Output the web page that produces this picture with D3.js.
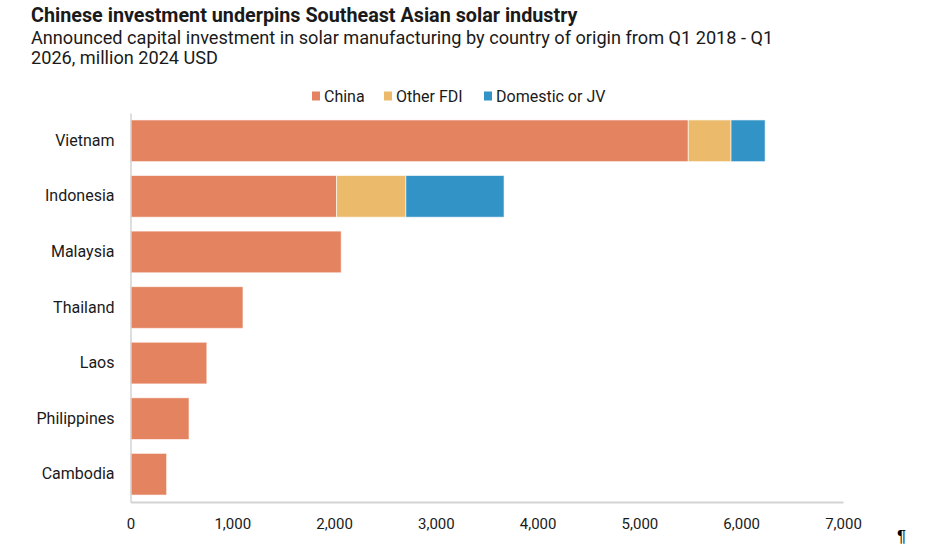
<!DOCTYPE html>
<html>
<head>
<meta charset="utf-8">
<script src="https://cdn.jsdelivr.net/npm/d3@7"></script>
<style>
  body { margin: 0; background: #fff; font-family: Roboto, "Noto Sans", sans-serif; }
  .axis text { font-family: Roboto, sans-serif; fill: #1a1a1a; }
  .x-axis text { font-size: 15px; }
  .y-axis text { font-size: 16px; }
</style>
</head>
<body>
<div id="chart"></div>
<script>
// Data (million 2024 USD)
const countries = ['Vietnam', 'Indonesia', 'Malaysia', 'Thailand', 'Laos', 'Philippines', 'Cambodia'];
const china = [5480, 2025, 2070, 1105, 750, 575, 355];
const otherFdi = [420, 680, 0, 0, 0, 0, 0];
const domestic = [335, 965, 0, 0, 0, 0, 0];
const seriesNames = ['China', 'Other FDI', 'Domestic or JV'];
const seriesColors = ['#e4835f', '#ebbb6b', '#3193c6'];
const xTicks = [0, 1000, 2000, 3000, 4000, 5000, 6000, 7000];

const W = 936, H = 550;
const x0 = 130.5, x1 = 843, yTop = 113, yBottom = 502;

const svg = d3.select('#chart')
    .append('svg')
    .attr('width', W)
    .attr('height', H);

// Title + subtitle
svg.append('text')
    .attr('x', 31).attr('y', 22)
    .attr('font-size', '19.75px').attr('font-weight', 700).attr('fill', '#1a1a1a')
    .text('Chinese investment underpins Southeast Asian solar industry');

const sub = svg.append('text')
    .attr('x', 31).attr('y', 44)
    .attr('font-size', '18.15px').attr('fill', '#1a1a1a');
sub.append('tspan').attr('x', 31).attr('dy', 0)
    .text('Announced capital investment in solar manufacturing by country of origin from Q1 2018 - Q1');
sub.append('tspan').attr('x', 31).attr('dy', 20)
    .text('2026, million 2024 USD');

// Stack the series
const rows = countries.map((c, i) => ({
    country: c, 'China': china[i], 'Other FDI': otherFdi[i], 'Domestic or JV': domestic[i]
}));
const stacked = d3.stack().keys(seriesNames)(rows);

// Scales
const xScale = d3.scaleLinear().domain([0, 7000]).range([x0, x1]);
const yScale = d3.scaleBand()
    .domain(countries)
    .range([yTop, yBottom])
    .paddingInner(0.25)
    .paddingOuter(0.125);
const color = d3.scaleOrdinal().domain(seriesNames).range(seriesColors);

// Bars
svg.append('g').attr('class', 'bars')
    .selectAll('g')
    .data(stacked)
    .join('g')
    .attr('fill', d => color(d.key))
    .selectAll('rect')
    .data(d => d.filter(s => s[1] - s[0] > 0))
    .join('rect')
    .attr('x', d => xScale(d[0]))
    .attr('y', d => yScale(d.data.country))
    .attr('width', d => xScale(d[1]) - xScale(d[0]))
    .attr('height', yScale.bandwidth())
    .attr('stroke', '#fff')
    .attr('stroke-opacity', 0.6)
    .attr('stroke-width', 1);

// X axis
const xAxis = svg.append('g')
    .attr('class', 'axis x-axis')
    .attr('transform', `translate(0,${yBottom})`)
    .call(d3.axisBottom(xScale).tickValues(xTicks).tickFormat(d3.format(',')).tickSize(0).tickSizeOuter(0).tickPadding(16));
xAxis.select('.domain').attr('stroke', '#d3d3d3').attr('stroke-width', 2);

// Y axis
const yAxis = svg.append('g')
    .attr('class', 'axis y-axis')
    .attr('transform', `translate(${x0},0)`)
    .call(d3.axisLeft(yScale).tickSize(0).tickSizeOuter(0).tickPadding(16));
yAxis.select('.domain').attr('stroke', '#d3d3d3').attr('stroke-width', 1.5);

// Legend
const legendPos = [312, 384, 484];
const legend = svg.append('g').attr('class', 'legend')
    .selectAll('g')
    .data(seriesNames)
    .join('g')
    .attr('transform', (d, i) => `translate(${legendPos[i]},96)`);
legend.append('rect')
    .attr('x', 0).attr('y', -4.5)
    .attr('width', 8).attr('height', 9)
    .attr('fill', d => color(d));
legend.append('text')
    .attr('x', 12).attr('y', 0).attr('dy', '0.35em')
    .attr('font-size', '16px').attr('fill', '#1a1a1a')
    .text(d => d);

// Stray paragraph mark at the bottom right of the reference
svg.append('text')
    .attr('x', 897).attr('y', 542)
    .attr('font-family', '"Liberation Sans", Arial, sans-serif')
    .attr('font-size', '17px').attr('fill', '#000')
    .text('¶');
</script>
</body>
</html>
